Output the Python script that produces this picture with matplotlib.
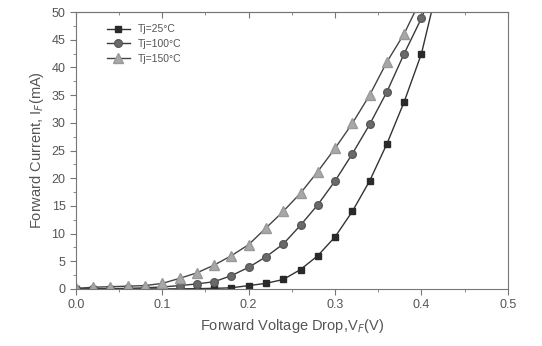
import matplotlib.pyplot as plt
from matplotlib.ticker import MultipleLocator

# forward voltage (V) and current (mA)
v25 = [0.00, 0.02, 0.04, 0.06, 0.08, 0.10, 0.12, 0.14, 0.16, 0.18, 0.20,
       0.22, 0.24, 0.26, 0.28, 0.30, 0.32, 0.34, 0.36, 0.38, 0.40, 0.42]
i25 = [0.0, 0.0, 0.0, 0.0, 0.0, 0.0, 0.02, 0.05, 0.1, 0.2, 0.6,
       1.0, 1.7, 3.5, 6.0, 9.4, 14.0, 19.5, 26.2, 33.8, 42.5, 55.5]

v100 = [0.00, 0.02, 0.04, 0.06, 0.08, 0.10, 0.12, 0.14, 0.16, 0.18, 0.20,
        0.22, 0.24, 0.26, 0.28, 0.30, 0.32, 0.34, 0.36, 0.38, 0.40, 0.42]
i100 = [0.0, 0.02, 0.05, 0.1, 0.2, 0.35, 0.6, 0.9, 1.3, 2.4, 3.9,
        5.8, 8.1, 11.5, 15.2, 19.5, 24.4, 29.7, 35.6, 42.5, 48.9, 57.0]

v150 = [0.00, 0.02, 0.04, 0.06, 0.08, 0.10, 0.12, 0.14, 0.16, 0.18, 0.20,
        0.22, 0.24, 0.26, 0.28, 0.30, 0.32, 0.34, 0.36, 0.38, 0.40]
i150 = [0.1, 0.3, 0.4, 0.5, 0.6, 1.0, 1.9, 2.9, 4.3, 6.0, 8.0,
        11.0, 14.0, 17.3, 21.2, 25.4, 29.9, 35.0, 41.0, 46.1, 52.5]

plt.rcParams['font.family'] = ['Liberation Sans', 'DejaVu Sans']
txt = '#555555'

fig = plt.figure(figsize=(5.42, 3.46), dpi=100)
ax = fig.add_axes([0.140, 0.165, 0.797, 0.800])

ax.plot(v25, i25, color='#333333', lw=1.0, marker='s', ms=5,
        mfc='#2a2a2a', mec='#2a2a2a', label='Tj=25°C')
ax.plot(v100, i100, color='#3a3a3a', lw=1.0, marker='o', ms=5.5,
        mfc='#6a6a6a', mec='#5a5a5a', label='Tj=100°C')
ax.plot(v150, i150, color='#444444', lw=1.0, marker='^', ms=6.5,
        mfc='#a8a8a8', mec='#999999', label='Tj=150°C')

ax.set_xlim(0, 0.5)
ax.set_ylim(0, 50)
ax.xaxis.set_major_locator(MultipleLocator(0.1))
ax.xaxis.set_minor_locator(MultipleLocator(0.05))
ax.yaxis.set_major_locator(MultipleLocator(5))
ax.yaxis.set_minor_locator(MultipleLocator(2.5))
ax.xaxis.set_major_formatter(plt.FuncFormatter(lambda x, p: '%.1f' % x))
ax.tick_params(which='both', colors='#777777', labelcolor=txt, labelsize=9,
               direction='out')
ax.tick_params(which='major', length=4)
ax.tick_params(which='minor', length=2.5)

# inward ticks along the top edge
top = ax.secondary_xaxis('top')
top.xaxis.set_major_locator(MultipleLocator(0.1))
top.xaxis.set_minor_locator(MultipleLocator(0.05))
top.tick_params(which='both', direction='in', colors='#777777', labeltop=False)
top.tick_params(which='major', length=4)
top.tick_params(which='minor', length=2.5)
top.spines['top'].set_color('#777777')

for s in ax.spines.values():
    s.set_color('#777777')

ax.set_xlabel('Forward Voltage Drop,V$_F$(V)', fontsize=10.5, color=txt)
ax.set_ylabel('Forward Current, I$_F$(mA)', fontsize=10.5, color=txt)

leg = ax.legend(loc='upper left', bbox_to_anchor=(0.05, 0.99), frameon=False,
                fontsize=7.5, handlelength=2.2, labelspacing=0.45)
for t in leg.get_texts():
    t.set_color(txt)

fig.savefig('out.png', dpi=100)
